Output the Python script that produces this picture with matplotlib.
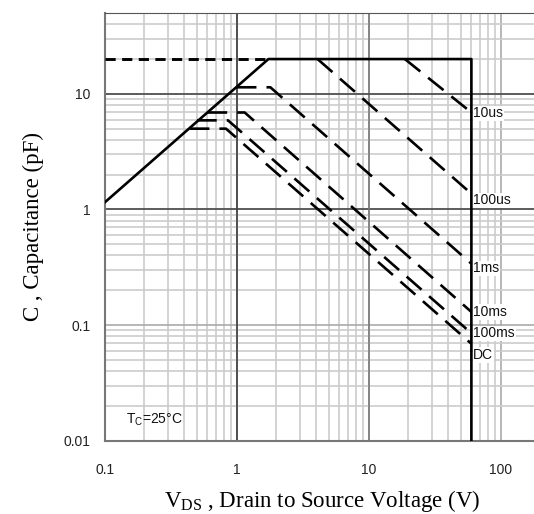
import matplotlib
matplotlib.use('Agg')
import matplotlib.pyplot as plt

plt.rcParams['mathtext.fontset'] = 'custom'
plt.rcParams['mathtext.rm'] = 'Liberation Serif'
plt.rcParams['mathtext.sf'] = 'Liberation Sans'

# data
limit_vds = [0.1, 1.74, 60, 60]
limit_c = [1.15, 20, 20, 0.01]
dash_top_vds = [0.1, 1.74]
dash_top_c = [20, 20]

pulse_names = ['10us', '100us', '1ms', '10ms', '100ms', 'DC']
pulse_vds = [[18.8, 60],
             [4.1, 60],
             [1.0, 1.8, 60],
             [0.6, 1.15, 60],
             [0.5, 0.86, 60],
             [0.44, 0.83, 60]]
pulse_c = [[20, 6.9],
           [20, 1.37],
           [11.4, 11.4, 0.34],
           [6.9, 6.9, 0.13],
           [5.9, 5.9, 0.085],
           [5.0, 5.0, 0.069]]
label_c = [6.8, 1.2, 0.31, 0.13, 0.085, 0.055]

xticks = [0.1, 1, 10, 100]
xticklabels = ['0.1', '1', '10', '100']
yticks = [0.01, 0.1, 1, 10]
yticklabels = ['0.01', '0.1', '1', '10']

fig = plt.figure(figsize=(5.34, 5.14), dpi=100)
ax = fig.add_axes([0.196, 0.1426, 0.816, 0.832])
ax.set_xscale('log')
ax.set_yscale('log')
ax.set_xlim(0.1, 200)
ax.set_ylim(0.01, 50)

# grid
ax.grid(True, which='minor', color='#cccccc', lw=1.2)
ax.grid(True, which='major', color='#aaaaaa', lw=1.2)
for v in [1, 10]:
  ax.axvline(v, color='#333333' if v == 1 else '#777777', lw=1.1, zorder=1)
  ax.axhline(v, color='#444444', lw=1.1, zorder=1)
ax.set_axisbelow(True)

# limits
ax.plot(limit_vds, limit_c, color='black', lw=1.9, zorder=3)
ax.plot(dash_top_vds, dash_top_c, color='black', lw=2.1, dashes=(3.5, 2.2), zorder=3)

for name, xs, ys, ly in zip(pulse_names, pulse_vds, pulse_c, label_c):
  ax.plot(xs, ys, color='black', lw=1.9, dashes=(7.5, 3.8), zorder=3)
  ax.text(62, ly, name, fontsize=10, family='Liberation Sans', ha='left', va='center',
          color='#111111', bbox=dict(facecolor='white', edgecolor='none', pad=0.5))

ax.text(0.145, 0.0152, r'$\mathsf{T_C}$=25°C', fontsize=10, family='Liberation Sans',
        ha='left', va='center', color='#111111')

ax.set_xticks(xticks)
ax.set_xticklabels(xticklabels)
ax.set_yticks(yticks)
ax.set_yticklabels(yticklabels)
ax.minorticks_on()
ax.tick_params(which='both', length=0)
ax.tick_params(axis='x', pad=16)
ax.tick_params(axis='y', pad=10)
for lab in ax.get_xticklabels() + ax.get_yticklabels():
  lab.set_family('Liberation Sans')
  lab.set_fontsize(10)
  lab.set_color('#222222')

for s in ['left', 'bottom']:
  ax.spines[s].set_color('#777777')
  ax.spines[s].set_linewidth(1.5)
ax.spines['top'].set_color('#555555')
ax.spines['right'].set_visible(False)

ax.set_xlabel(r'$\mathrm{V_{DS}}$ , Drain to Source Voltage (V)', family='Liberation Serif',
              fontsize=16.5, labelpad=8)
ax.set_ylabel('C , Capacitance (pF)', family='Liberation Serif', fontsize=16.5, labelpad=14)

fig.savefig('out.png', dpi=100)
